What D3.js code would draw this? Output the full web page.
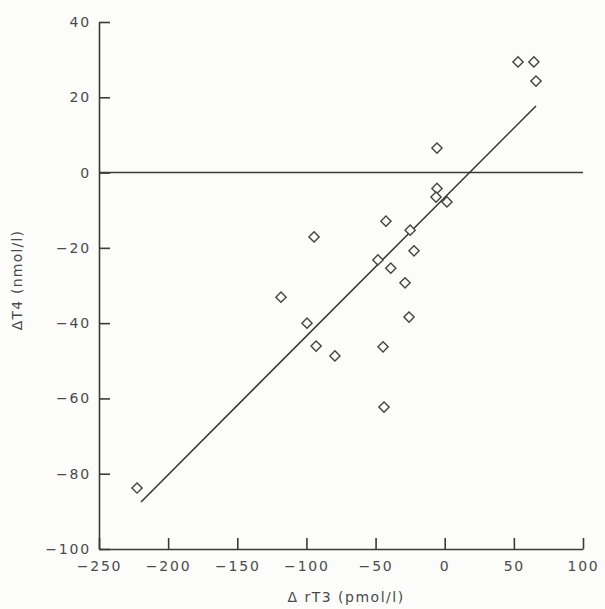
<!DOCTYPE html>
<html>
<head>
<meta charset="utf-8">
<script src="https://cdn.jsdelivr.net/npm/d3@7"></script>
<style>
  body { margin: 0; background: #fcfdfb; }
  svg { display: block; }
  .axis path, .axis line { stroke: #3a3a3a; stroke-width: 1.6; }
  .axis text { font-family: "DejaVu Sans", sans-serif; font-size: 14px; fill: #4a4a4a; letter-spacing: 1.8px; }
</style>
</head>
<body>
<svg id="chart" width="605" height="609"></svg>
<script>
// change in rT3 (pmol/l) against change in T4 (nmol/l)
const drT3 = [53, 64.5, 66, -5.6, -5.6, -6.3, 1.6, -42.5, -25, -22.2, -48.3, -39,
  -94.5, -28.7, -118.4, -25.8, -99.6, -93, -79.4, -44.6, -43.9, -222.5];
const dT4 = [29.4, 29.4, 24.3, 6.5, -4.2, -6.5, -7.8, -12.9, -15.3, -20.8, -23.2, -25.4,
  -17.1, -29.3, -33.1, -38.4, -40, -46.1, -48.7, -46.3, -62.3, -83.8];
const fitX = [-219.6, 66];
const fitY = [-87.5, 17.7];
const xTicks = [-250, -200, -150, -100, -50, 0, 50, 100];
const yTicks = [-100, -80, -60, -40, -20, 0, 20, 40];

const svg = d3.select('#chart');
const x = d3.scaleLinear().domain([-250, 100]).range([99, 583]);
const y = d3.scaleLinear().domain([-100, 40]).range([549, 22]);

svg.append('g')
  .attr('class', 'axis')
  .attr('transform', `translate(0,${y(-100)})`)
  .call(d3.axisBottom(x).tickValues(xTicks).tickSize(-11).tickSizeOuter(0).tickPadding(9))
  .selectAll('text').attr('dy', '0.9em');

svg.append('g')
  .attr('class', 'axis')
  .attr('transform', `translate(${x(-250)},0)`)
  .call(d3.axisLeft(y).tickValues(yTicks).tickSize(-11).tickSizeOuter(0).tickPadding(8));

// zero line
svg.append('line')
  .attr('x1', x(-250)).attr('x2', x(100))
  .attr('y1', y(0)).attr('y2', y(0))
  .attr('stroke', '#3a3a3a').attr('stroke-width', 1.4);

// regression line
svg.append('line')
  .attr('x1', x(fitX[0])).attr('y1', y(fitY[0]))
  .attr('x2', x(fitX[1])).attr('y2', y(fitY[1]))
  .attr('stroke', '#333').attr('stroke-width', 1.5);

const diamond = d3.symbol().type(d3.symbolSquare).size(52);
svg.append('g')
  .selectAll('path')
  .data(drT3.map((v, i) => [v, dT4[i]]))
  .join('path')
  .attr('d', diamond)
  .attr('transform', d => `translate(${x(d[0])},${y(d[1])}) rotate(45)`)
  .attr('fill', '#fcfdfb')
  .attr('stroke', '#444')
  .attr('stroke-width', 1.4);

const font = '"DejaVu Sans", sans-serif';
svg.append('text')
  .attr('transform', 'translate(22,280) rotate(-90)')
  .attr('text-anchor', 'middle')
  .attr('font-family', font).attr('font-size', 14).attr('fill', '#4a4a4a')
  .attr('letter-spacing', 1.2)
  .text('ΔT4 (nmol/l)');

svg.append('text')
  .attr('x', 346).attr('y', 602)
  .attr('text-anchor', 'middle')
  .attr('font-family', font).attr('font-size', 14).attr('fill', '#4a4a4a')
  .attr('letter-spacing', 1.5)
  .text('Δ rT3 (pmol/l)');
</script>
</body>
</html>
